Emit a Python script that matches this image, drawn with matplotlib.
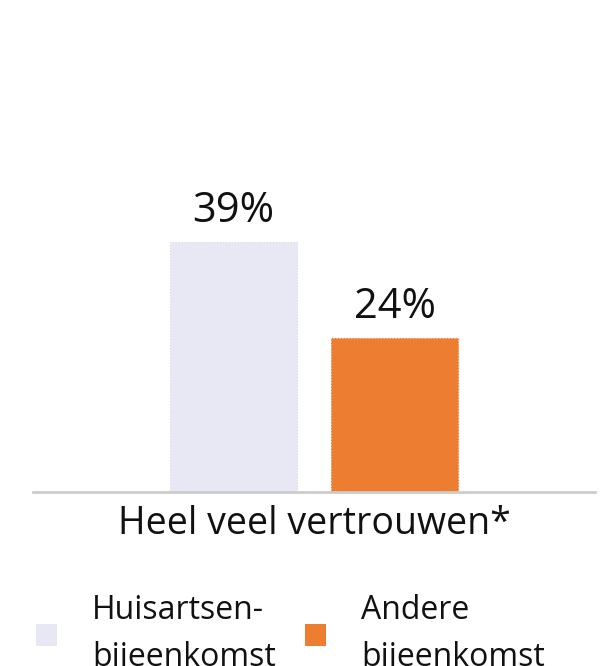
import matplotlib
matplotlib.use("Agg")
import matplotlib.pyplot as plt
import numpy as np

plt.rcParams['font.family'] = ['Open Sans', 'DejaVu Sans']

category = ["Heel veel vertrouwen*"]
series_names = ["Huisartsen-\nbijeenkomst", "Andere\nbijeenkomst"]
values = [39, 24]
colors = ["#E8E8F4", "#ED7D31"]
edges = ["#D8D8E6", "#ED7D31"]

W, H = 610, 666
fig = plt.figure(figsize=(W / 100, H / 100), dpi=100)
ymax = 70
ax_left, ax_right = 33, 595
base = 492
ppu = 6.41
top = base - ymax * ppu
ax = fig.add_axes([ax_left / W, 1 - base / H, (ax_right - ax_left) / W, (base - top) / H])

x = np.arange(len(category))
bw = 127 / (ax_right - ax_left)
offs = 80.5 / (ax_right - ax_left)
handles = []
for i, (name, v, c, e) in enumerate(zip(series_names, values, colors, edges)):
    b = ax.bar(x + (i - 0.5) * 2 * offs, [v], width=bw, color=c, label=name, zorder=2,
               edgecolor=e, linewidth=0.8, linestyle=':')
    handles.append(b)
    for rect in b:
        ax.text(rect.get_x() + rect.get_width() / 2, rect.get_height() + 3.1,
                f"{v}%", ha='center', va='baseline', fontsize=30, color='#111111')

ax.set_xlim(-0.5, 0.5)
ax.set_ylim(0, ymax)
for s in ['top', 'right', 'left']:
    ax.spines[s].set_visible(False)
ax.spines['bottom'].set_color('#cccccc')
ax.spines['bottom'].set_linewidth(2)
ax.spines['bottom'].set_zorder(3)
ax.set_yticks([])
ax.set_xticks(x)
ax.set_xticklabels(category, fontsize=27, color='#111111')
ax.tick_params(axis='x', length=0, pad=9)

leg = fig.legend(handles=handles, labels=series_names, loc='upper left',
                 bbox_to_anchor=(20 / W, 1 - 578 / H), ncol=2, frameon=False,
                 fontsize=23, handlelength=0.66, handleheight=0.66,
                 handletextpad=1.1, columnspacing=0.9, borderpad=0,
                 labelspacing=0.5)
for t in leg.get_texts():
    t.set_linespacing(1.55)
    t.set_color('#111111')
for hd in leg.legend_handles:
    hd.set_linestyle('-')
    hd.set_linewidth(0)

fig.savefig("out.png", dpi=100)
